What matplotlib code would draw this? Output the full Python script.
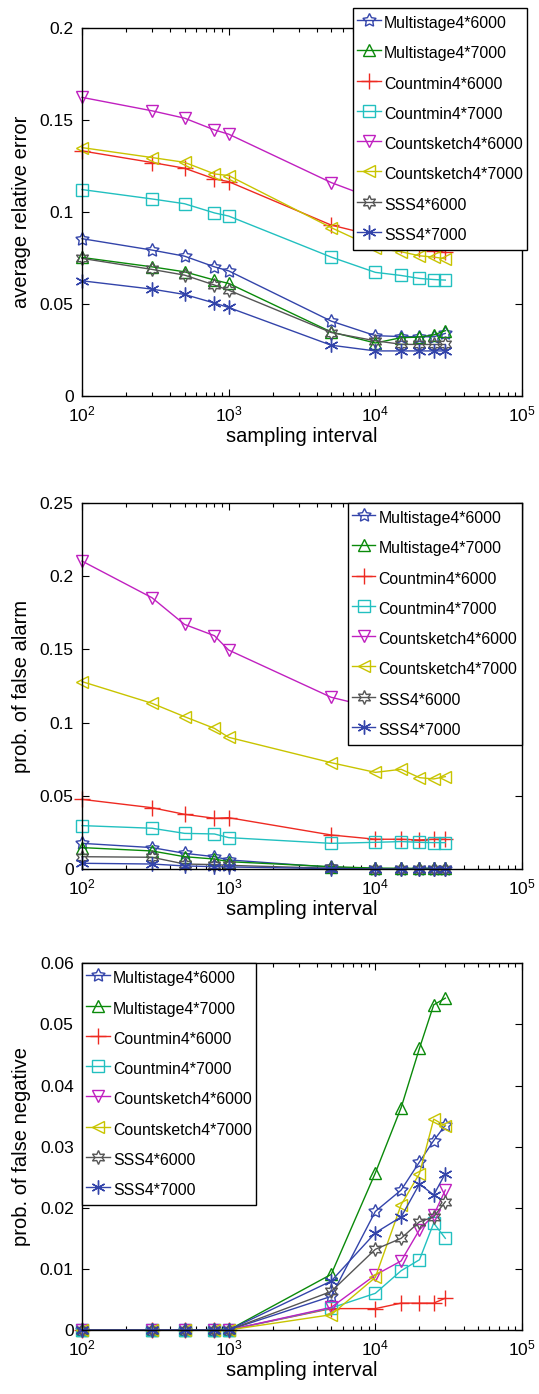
import numpy as np
import matplotlib
matplotlib.use('Agg')
import matplotlib.pyplot as plt
from matplotlib.ticker import LogLocator, NullFormatter, MultipleLocator

plt.rcParams['font.family'] = ['Liberation Sans', 'DejaVu Sans']
plt.rcParams['mathtext.fontset'] = 'custom'
plt.rcParams['mathtext.rm'] = 'Liberation Sans'
plt.rcParams['mathtext.it'] = 'Liberation Sans'

# sampling intervals
interval = [100, 300, 500, 800, 1000, 5000, 10000, 15000, 20000, 25000, 30000]

labels = ['Multistage4*6000', 'Multistage4*7000', 'Countmin4*6000', 'Countmin4*7000',
          'Countsketch4*6000', 'Countsketch4*7000', 'SSS4*6000', 'SSS4*7000']

# average relative error
err_ms6000 = [0.0855, 0.0793, 0.0760, 0.0702, 0.0680, 0.0407, 0.0328, 0.0323, 0.0322, 0.0322, 0.0340]
err_ms7000 = [0.0753, 0.0702, 0.0675, 0.0630, 0.0612, 0.0348, 0.0288, 0.0317, 0.0320, 0.0332, 0.0355]
err_cm6000 = [0.1332, 0.1269, 0.1238, 0.1180, 0.1165, 0.0929, 0.0870, 0.0820, 0.0800, 0.0790, 0.0780]
err_cm7000 = [0.1122, 0.1071, 0.1045, 0.0995, 0.0978, 0.0755, 0.0672, 0.0655, 0.0639, 0.0633, 0.0630]
err_cs6000 = [0.1623, 0.1550, 0.1510, 0.1446, 0.1423, 0.1160, 0.1070, 0.1050, 0.1040, 0.1030, 0.1020]
err_cs7000 = [0.1350, 0.1296, 0.1270, 0.1207, 0.1198, 0.0915, 0.0804, 0.0784, 0.0762, 0.0755, 0.0746]
err_sss6000 = [0.0748, 0.0688, 0.0657, 0.0603, 0.0575, 0.0345, 0.0300, 0.0281, 0.0280, 0.0280, 0.0280]
err_sss7000 = [0.0626, 0.0581, 0.0552, 0.0505, 0.0481, 0.0276, 0.0245, 0.0245, 0.0245, 0.0245, 0.0245]

# probability of false alarm
fa_ms6000 = [0.0177, 0.0148, 0.0109, 0.0086, 0.0064, 0.0014, 0.0005, 0.0004, 0.0003, 0.0003, 0.0003]
fa_ms7000 = [0.0148, 0.0125, 0.0086, 0.0070, 0.0052, 0.0018, 0.0008, 0.0007, 0.0006, 0.0006, 0.0006]
fa_cm6000 = [0.0477, 0.0420, 0.0375, 0.0348, 0.0352, 0.0234, 0.0205, 0.0205, 0.0200, 0.0205, 0.0205]
fa_cm7000 = [0.0298, 0.0280, 0.0245, 0.0241, 0.0216, 0.0177, 0.0184, 0.0189, 0.0184, 0.0182, 0.0182]
fa_cs6000 = [0.2102, 0.1852, 0.1670, 0.1593, 0.1495, 0.1173, 0.1100, 0.1070, 0.1050, 0.1040, 0.1030]
fa_cs7000 = [0.1280, 0.1132, 0.1041, 0.0961, 0.0900, 0.0727, 0.0661, 0.0682, 0.0625, 0.0616, 0.0632]
fa_sss6000 = [0.0086, 0.0082, 0.0036, 0.0032, 0.0027, 0.0007, 0.0002, 0.0002, 0.0001, 0.0001, 0.0001]
fa_sss7000 = [0.0041, 0.0036, 0.0023, 0.0018, 0.0016, 0.0005, 0.0001, 0.0001, 0.0001, 0.0001, 0.0001]

# probability of false negative
fn_ms6000 = [0, 0, 0, 0, 0, 0.0055, 0.0194, 0.0229, 0.0275, 0.0310, 0.0335]
fn_ms7000 = [0, 0, 0, 0, 0, 0.0091, 0.0257, 0.0364, 0.0461, 0.0532, 0.0543]
fn_cm6000 = [0, 0, 0, 0, 0, 0.0035, 0.0035, 0.0044, 0.0044, 0.0044, 0.0052]
fn_cm7000 = [0, 0, 0, 0, 0, 0.0036, 0.0060, 0.0097, 0.0115, 0.0175, 0.0150]
fn_cs6000 = [0, 0, 0, 0, 0, 0.0037, 0.0090, 0.0113, 0.0164, 0.0188, 0.0229]
fn_cs7000 = [0, 0, 0, 0, 0, 0.0025, 0.0086, 0.0205, 0.0256, 0.0345, 0.0334]
fn_sss6000 = [0, 0, 0, 0, 0, 0.0063, 0.0132, 0.0150, 0.0177, 0.0185, 0.0210]
fn_sss7000 = [0, 0, 0, 0, 0, 0.0080, 0.0159, 0.0185, 0.0239, 0.0221, 0.0256]

colors = ['#3344aa', '#0a8a0a', '#ee2a22', '#22c0c0', '#c020c0', '#c8c400', '#555555', '#3344aa']
markers = [(5, 1, 0), '^', '+', 's', 'v', '<', (6, 1, 0), (6, 2, 0)]
msizes = [10, 9, 11, 8, 9, 9, 10, 10]

W, H = 539, 1394
fig = plt.figure(figsize=(W / 100, H / 100), dpi=100)


def make_axes(top, bottom):
    return fig.add_axes([82 / W, 1 - bottom / H, 440 / W, (bottom - top) / H])


def draw_panel(ax, series, ymax, ystep, ylabel, leg_anchor, leg_loc):
    for k, ys in enumerate(series):
        ax.plot(interval, ys, color=colors[k], marker=markers[k], ms=msizes[k],
                mfc='none', mec=colors[k], mew=1.0, lw=1.0, label=labels[k], clip_on=False)
    ax.set_xscale('log')
    ax.set_xlim(1e2, 1e5)
    ax.set_ylim(0, ymax)
    ax.yaxis.set_major_locator(MultipleLocator(ystep))
    ax.yaxis.set_major_formatter(plt.FuncFormatter(lambda v, p: ('%.2f' % v).rstrip('0').rstrip('.')))
    ax.xaxis.set_major_locator(LogLocator(base=10))
    ax.xaxis.set_minor_locator(LogLocator(base=10, subs=np.arange(2, 10)))
    ax.xaxis.set_minor_formatter(NullFormatter())
    ax.tick_params(which='both', direction='in', top=True, right=True, labelsize=12.5, width=0.8)
    ax.tick_params(which='major', length=5, pad=6)
    ax.tick_params(which='minor', length=3)
    for s in ax.spines.values():
        s.set_linewidth(1.0)
    ax.set_xlabel('sampling interval', fontsize=14.5, labelpad=2)
    ax.set_ylabel(ylabel, fontsize=14.5, labelpad=6)
    leg = ax.legend(loc=leg_loc, bbox_to_anchor=leg_anchor, bbox_transform=fig.transFigure,
                    fontsize=11.4, frameon=True, fancybox=False, framealpha=1, borderaxespad=0,
                    handlelength=1.5, handleheight=1.75, handletextpad=0.2,
                    labelspacing=0.53, borderpad=0.25)
    leg.get_frame().set_edgecolor('black')
    leg.get_frame().set_linewidth(1.0)
    leg.set_zorder(10)


ax1 = make_axes(28, 396)
draw_panel(ax1, [err_ms6000, err_ms7000, err_cm6000, err_cm7000, err_cs6000, err_cs7000,
                 err_sss6000, err_sss7000],
           0.2, 0.05, 'average relative error', (527 / W, 1 - 8 / H), 'upper right')

ax2 = make_axes(502.7, 869.3)
draw_panel(ax2, [fa_ms6000, fa_ms7000, fa_cm6000, fa_cm7000, fa_cs6000, fa_cs7000,
                 fa_sss6000, fa_sss7000],
           0.25, 0.05, 'prob. of false alarm', (521.5 / W, 1 - 503 / H), 'upper right')

ax3 = make_axes(963.3, 1330)
draw_panel(ax3, [fn_ms6000, fn_ms7000, fn_cm6000, fn_cm7000, fn_cs6000, fn_cs7000,
                 fn_sss6000, fn_sss7000],
           0.06, 0.01, 'prob. of false negative', (82 / W, 1 - 963.3 / H), 'upper left')

fig.savefig('out.png', dpi=100)
